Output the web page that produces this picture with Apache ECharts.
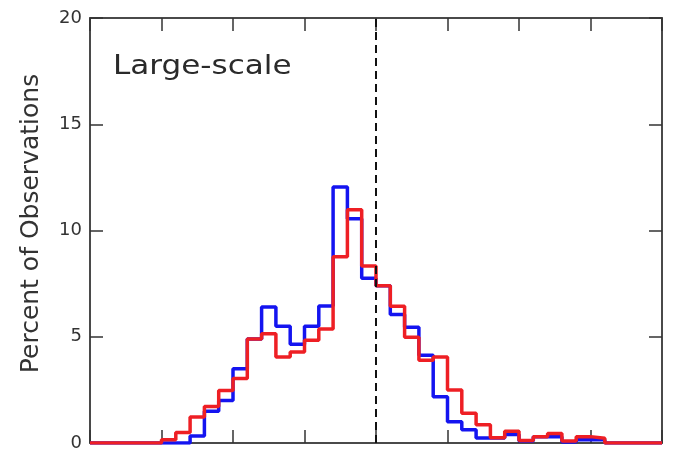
<!DOCTYPE html>
<html>
<head>
<meta charset="utf-8">
<script src="https://cdn.jsdelivr.net/npm/echarts@6/dist/echarts.min.js"></script>
<style>
html,body{margin:0;padding:0;background:#fff;}
#chart{width:678px;height:452px;}
</style>
</head>
<body>
<div id="chart"></div>
<script>
// Histogram bins (40 bins, bin index along x), percent of observations
var binEdges = [0,1,2,3,4,5,6,7,8,9,10,11,12,13,14,15,16,17,18,19,20,21,22,23,24,25,26,27,28,29,30,31,32,33,34,35,36,37,38,39,40];
var blueValues = [0,0,0,0,0,0,0,0.33,1.5,2.0,3.5,4.9,6.4,5.5,4.65,5.5,6.45,12.05,10.55,7.75,7.4,6.05,5.45,4.13,2.18,1.0,0.62,0.23,0.23,0.4,0.1,0.3,0.3,0.05,0.15,0.15,0,0,0,0];
var redValues  = [0,0,0,0,0,0.15,0.5,1.22,1.72,2.47,3.04,4.9,5.14,4.05,4.28,4.83,5.37,8.77,10.98,8.33,7.4,6.43,4.98,3.9,4.05,2.49,1.4,0.86,0.25,0.55,0.12,0.3,0.45,0.1,0.3,0.22,0,0,0,0];
var yTicks = [0,5,10,15,20];
var dashedAt = 20;
var panelLabel = 'Large-scale';
var yTitle = 'Percent of Observations';

function stepData(vals){
  var d = [];
  for (var i = 0; i < vals.length; i++) d.push([binEdges[i], vals[i]]);
  d.push([binEdges[vals.length], vals[vals.length-1]]);
  return d;
}

var frame = '#4a4a4a';
var chart = echarts.init(document.getElementById('chart'), null, {renderer:'canvas'});
var tickCommon = {show:true, inside:true, length:13, lineStyle:{color:'#333', width:1.5}};
chart.setOption({
  animation:false,
  backgroundColor:'#ffffff',
  grid:{left:90, right:16, top:18, bottom:7, containLabel:false},
  xAxis:[
    {type:'value', min:0, max:40, interval:5, position:'bottom',
     axisLine:{show:true, onZero:false, lineStyle:{color:frame, width:2}},
     axisTick:tickCommon, axisLabel:{show:false}, splitLine:{show:false}},
    {type:'value', min:0, max:40, interval:5, position:'top',
     axisLine:{show:true, onZero:false, lineStyle:{color:frame, width:2}},
     axisTick:tickCommon, axisLabel:{show:false}, splitLine:{show:false}}
  ],
  yAxis:[
    {type:'value', min:yTicks[0], max:yTicks[yTicks.length-1], interval:5, position:'left',
     name:yTitle, nameLocation:'middle', nameGap:46,
     nameTextStyle:{fontFamily:'DejaVu Sans', fontSize:25, color:'#333', padding:[0,0,0,14]},
     axisLine:{show:true, onZero:false, lineStyle:{color:frame, width:2}},
     axisTick:tickCommon,
     axisLabel:{show:true, margin:8, fontFamily:'DejaVu Sans', fontSize:18, color:'#333'},
     splitLine:{show:false}},
    {type:'value', min:yTicks[0], max:yTicks[yTicks.length-1], interval:5, position:'right',
     axisLine:{show:true, onZero:false, lineStyle:{color:frame, width:2}},
     axisTick:tickCommon, axisLabel:{show:false}, splitLine:{show:false}}
  ],
  graphic:[
    {type:'text', left:113, top:53, scaleX:1.15,
     style:{text:panelLabel, font:'27px "DejaVu Sans"', fill:'#2a2a2a'}}
  ],
  series:[
    {type:'line', name:'blue', step:'end', data:stepData(blueValues), symbol:'none',
     lineStyle:{color:'#1414f0', width:3.5}, z:3,
     markLine:{silent:true, symbol:'none', label:{show:false},
       lineStyle:{color:'#111', type:[8,5], width:2},
       data:[{xAxis:dashedAt}]}},
    {type:'line', name:'red', step:'end', data:stepData(redValues), symbol:'none',
     lineStyle:{color:'#ee1f24', width:3.5}, z:4}
  ]
});
</script>
</body>
</html>
